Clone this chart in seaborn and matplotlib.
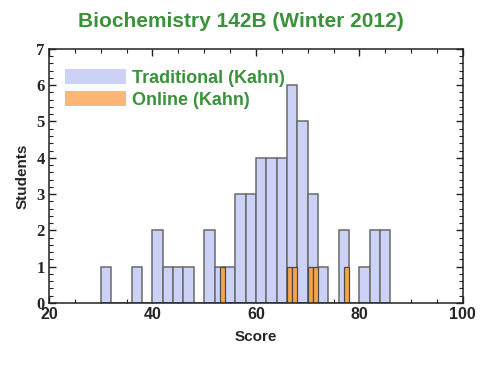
import numpy as np
import pandas as pd
import matplotlib
matplotlib.use("Agg")
import matplotlib.pyplot as plt
import seaborn as sns
from matplotlib.patches import Patch
from matplotlib.ticker import MultipleLocator

# Binned scores
trad_bin_left = [30, 36, 40, 42, 44, 46, 50, 52, 54, 56, 58, 60, 62, 64, 66, 68, 70, 72, 76, 80, 82, 84]
trad_counts = [1, 1, 2, 1, 1, 1, 2, 1, 1, 3, 3, 4, 4, 4, 6, 5, 3, 1, 2, 1, 2, 2]
online_scores = [53, 66, 67, 70, 71, 77]
online_counts = [1, 1, 1, 1, 1, 1]

green = "#3a923a"
trad_color = "#cbd2f5"
online_color = "#f8a548"
online_legend = "#fdb676"

trad = pd.DataFrame({"score": trad_bin_left, "n": trad_counts})
online = pd.DataFrame({"score": online_scores, "n": online_counts})

sns.set_style("ticks")
plt.rcParams["font.family"] = ["Liberation Sans", "DejaVu Sans"]

fig = plt.figure(figsize=(4.95, 3.65), dpi=100)
ax = fig.add_axes([0.099, 0.170, 0.836, 0.696])

sns.histplot(data=trad, x="score", weights="n", binwidth=2, binrange=(30, 86),
             color=trad_color, edgecolor="#6a6a6a", linewidth=1.1, alpha=1, ax=ax)
sns.histplot(data=online, x="score", weights="n", binwidth=1, binrange=(53, 78),
             color=online_color, edgecolor="#4a4a4a", linewidth=0.9, alpha=1, ax=ax)

ax.set_xlim(20, 100)
ax.set_ylim(0, 7)
ax.xaxis.set_major_locator(MultipleLocator(20))
ax.xaxis.set_minor_locator(MultipleLocator(5))
ax.yaxis.set_major_locator(MultipleLocator(1))
ax.yaxis.set_minor_locator(MultipleLocator(0.2))
ax.tick_params(which="both", direction="in", top=True, right=True, color="#222222")
ax.tick_params(which="major", length=5, width=1)
ax.tick_params(which="minor", length=3, width=0.8)
ax.tick_params(axis="x", labelsize=11.5, pad=3)
ax.tick_params(axis="y", labelsize=12, pad=3)
for lab in ax.get_xticklabels():
    lab.set_fontweight("bold")
for lab in ax.get_yticklabels():
    lab.set_fontweight("bold")
    lab.set_family("Liberation Serif")
for sp in ax.spines.values():
    sp.set_color("#222222")
    sp.set_linewidth(1.1)

ax.set_xlabel("Score", fontsize=11, fontweight="bold", labelpad=6)
ax.set_ylabel("Students", fontsize=11, fontweight="bold", labelpad=5)
fig.text(0.487, 0.942, "Biochemistry 142B (Winter 2012)", color=green,
         fontsize=15, fontweight="bold", ha="center", va="center")

handles = [Patch(facecolor=trad_color, edgecolor="none"),
           Patch(facecolor=online_legend, edgecolor="none")]
leg = ax.legend(handles, ["Traditional (Kahn)", "Online (Kahn)"], loc="upper left",
                bbox_to_anchor=(0.02, 0.95), frameon=False, handlelength=3.4,
                handleheight=0.9, handletextpad=0.35, labelspacing=0.25,
                prop={"size": 13, "weight": "bold"}, borderaxespad=0)
for t in leg.get_texts():
    t.set_color(green)

fig.savefig("out.png", dpi=100)
